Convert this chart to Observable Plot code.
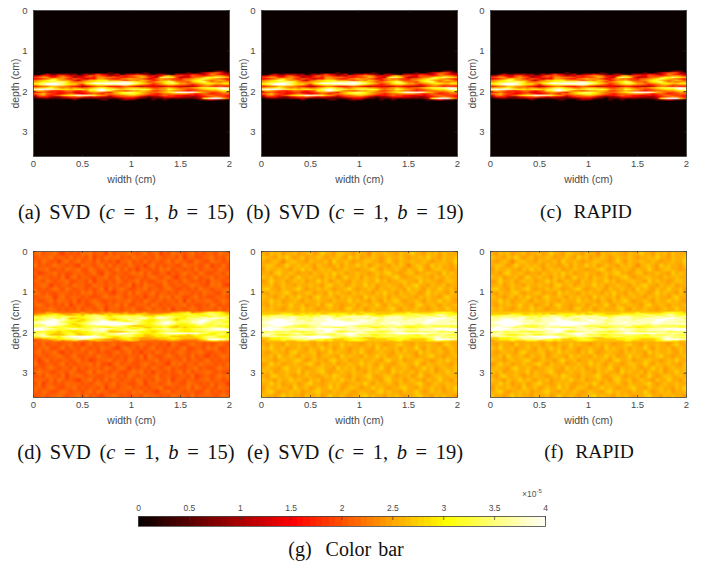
<!DOCTYPE html>
<html><head><meta charset="utf-8">
<script src="https://cdn.jsdelivr.net/npm/d3@7"></script>
<script src="https://cdn.jsdelivr.net/npm/@observablehq/plot@0.6"></script>
<style>
html,body{margin:0;padding:0;background:#fff}
#page{position:relative;width:709px;height:563px;overflow:hidden;background:#fff}
#page>div.p{position:absolute}
.cap{position:absolute;font-family:"Liberation Serif",serif;color:#111;white-space:nowrap;transform:translate(-50%,-50%)}
.cap i{font-style:italic}
#exp{position:absolute;left:522px;top:489px;font:8.5px "Liberation Sans",sans-serif;color:#555;white-space:nowrap}
#exp sup{font-size:6px;line-height:0}
svg{overflow:visible}
</style></head><body><div id="page"></div>
<script>
// ---------- values (each hex digit = 0..15 of the 0..4 x 10^-5 range) ----------
const widthTicks = [0, 0.5, 1, 1.5, 2];
const depthTicks = [0, 1, 2, 3];
const colorTicks = [0, 0.5, 1, 1.5, 2, 2.5, 3, 3.5, 4];
const colorLevels = [0,.0625,.125,.1875,.25,.3125,.375,.4375,.5,.5625,.625,.6875,.75,.8125,.875,.9375,
 1,1.0625,1.125,1.1875,1.25,1.3125,1.375,1.4375,1.5,1.5625,1.625,1.6875,1.75,1.8125,1.875,1.9375,
 2,2.0625,2.125,2.1875,2.25,2.3125,2.375,2.4375,2.5,2.5625,2.625,2.6875,2.75,2.8125,2.875,2.9375,
 3,3.0625,3.125,3.1875,3.25,3.3125,3.375,3.4375,3.5,3.5625,3.625,3.6875,3.75,3.8125,3.875,3.9375];
const colorDomain = [0, 1.5, 3, 4];
const colorRange = ["#0b0000", "#ff0000", "#ffff00", "#ffffff"];

const topBackground = ["00","00"];
const topBand = [
"0000000000 0000000000 0000000000 0000000000 0000002320",
"0000000000 0000000002 0000000020 0000000002 0024678742",
"0025224342 3024257542 3503446433 0342104444 6644697654",
"4576557865 5446878764 5476789985 6559a87765 8776789986",
"7899668987 3557769988 8766778a97 54bdcb7445 788acbdcba",
"5678ab9976 8764669987 6689a99875 6898877688 9abdba9876",
"89abdca998 6478aabbb9 9987898a98 6799a87789 abca989a97",
"9abbccddb9 889aabccdd ddeedcba97 89abdc9887 abcda89899",
"bcdeffedba a99bdfffff fffffedba9 789bcdb998 89abbbaabb",
"abdfffedba a869abccdd ddeedba987 6789aa9887 6789a98899",
"6788aa9987 6544678876 6678765455 5545665544 4578876766",
"9aabca9898 98789abcba 9889aaa998 7789a98788 9abccddefd",
"efffedcbba bcbabdefdc dbabcdcccb 9899cba987 789abbbdfe",
"9a98766788 7678cbefdc 9887899aa9 7789a98876 7788899abb",
"6787676677 5567899876 9abcdcba98 889abcffff fda9877898",
"89a8765678 7656787688 9abcccba98 7678899998 7678767788",
"5897678abc dfeedca986 7889aa9876 6678776655 6567887776",
"3666433567 7876565543 5677776432 3346665544 3356789876",
"1233222334 5322223222 2335553220 2223323222 234bdfffa8",
"0000000000 2000000220 0023220000 2002000000 0022453220"];

const leftBackground = [
"8978897687 8798978869 7888987897 8968798878 9787887988",
"7888978879 7887968798 8978798878 7987887968 8778897879",
"8798786897 8978879787 8688978797 8878979887 7987798878",
"9787898878 7698878979 7887987868 9787887798 8878968797",
"7889778798 8977987887 8979786887 8798978878 7978887987",
"8678897877 8887897698 7887898979 7788687898 8798778879",
"7988787968 9788778897 8978778878 9878976887 8978897887",
"8879878897 7887968878 7987889787 7889788798 7878698878",
"7898687887 9887798878 8878968798 8779878878 9887798976",
"8787898798 7887878969 7898778897 8878987787 8798878889",
"9878778887 8798978887 6887979878 9788787988 7879887798",
"7889868978 8878777898 8987887868 8798979877 8978778887",
"8778979887 9687898778 7888978798 7887887969 7888987898",
"8987878796 8887789878 8979778887 9878788897 8778798787",
"7888987878 7978878968 8878897789 7887968878 9878887978",
"8878898878 8878988878 8878898878 8988878898 8878888988",
"8888888888 8888888888 8888888888 8888888888 8888888888",
"8888888888 8888888888 8888888888 8888888888 8888888888",
"8888888888 8888888888 8888888888 8888888888 8888888888",
"8888888888 8888888888 8888888888 8888888888 8888888888",
"8888888888 8888888888 8888888888 8888888888 8888888888",
"8888888888 8888888888 8888888888 8888888888 8888888888",
"8888888888 8888888888 8888888888 8888888888 8888888888",
"8797887889 7868978878 9787788987 8878698778 9887878987",
"7889778978 8798787988 7689887878 9787887897 7887989778",
"8978897687 8887987877 8978978688 7987878987 8898778878",
"7887889878 9778879887 8787887969 8778987887 9787687898",
"8689787887 8978678889 7887987878 8978788797 8878978787",
"9778878978 7888979776 8978877898 7887698978 8798887879",
"7878987887 9787888798 7898687887 9878978778 8978778988",
"8988778879 8778979887 8877898978 6887878979 7888987877",
"7879887968 8987887788 9787987887 8978877887 9678878989",
"8887979878 7688978797 8878879878 7987968878 8788978878",
"7968878798 8878789878 9788778968 8878988779 8878797886",
"8878987788 9787887968 8788978787 8897787889 7987887988",
"8798778987 8878979887 7888798978 7688978878 8778978787",
"7887889878 8979787688 9878788798 8878798887 9788887898"];

const leftBand = [
"8889988888 8898888989 8889888898 8888899aab 899abcbba9",
"899aaba999 aa9a9a99aa aa9a99aaa9 999aabbbcc bbbcddccba",
"aabbccbbaa abaccddbba bbbcbbcbaa abbbcbbbbc ccbbcddcbb",
"ccdcdccddc cbbccdddcb cdddddddcc bdedddccbc ccddccdcdc",
"dcddedceca abbcddedcb bccddcdeec ceeedcbbbd dddeeefeeb",
"bcdeefeedb cbabcddedb abccedddcb bcdddcaccc deefeedccd",
"deefffedcc babcdeeffe edcbcdecbb bcdeedccdd eeffedcdcb",
"eeffffedcb bccdeeffff ffffeedccb cdeffecccc eefedcddcc",
"ddefffeedb abcdefffff fffffedcbb cdeeedcbbc cdedccdddc",
"ccdeeedcbb babcccddde eedcbaaabb bccdcbabbb bcdccccbcb",
"deedcbcccb bbbccdccbb ccdcbcbbaa bbbcbaabab bbbccdddcb",
"fffeedccde eddcdeeffe dccdcbcdcb cddedcccbb cdddeefffe",
"ffedccbcbb cbcddeeedb bcddeeddcb bbcdddcbbb ccdddeeeff",
"bbcbbbabbb abbbcddeda aaabcdcbbb abccdcccbb bcbcdcccbb",
"cddcbaabcc babbccdccd deffeedcbb bcdeefffff ffedcbbcdb",
"ddebaaaabc baabbdcbcd dedddcbbaa bbbcdccbba bcbbbbcdcb",
"cdeedcbdee ffffffedcb bbcddcbbaa abbcbaaaaa abbcddcbbb",
"aabbbcbcde eefffeedcb aabbbaa999 aaaabbbaaa aabcdddccb",
"8899aabbcc deedcbaa99 9aabbaa999 99aaabaa99 99abefffed",
"7888899899 a98899a999 8899aa9888 8888999888 8899abbaa9"];

const rightBackground = [
"a9bab9aab9 aab9acaa9b baa9baa8ba abaa9baaca a9bab9baaa",
"baa9baca9a b9aaba9aab a9cab9aaba 9abaaba9aa bacaa9baab",
"a9aba8abba a9baaab9ca aba9aabbaa 9aca9baaba aba9aabaac",
"abba9acaab aba9baa9ab 9baacab9ab aa9baba8ab ba9cabaa9b",
"9baabaa9ba cab9abab9a abaa9aabca 9baaba9baa ca9abbaa9a",
"aa9bcaaba9 aa9baabaca b9aabaa9ab abcaa9abb9 aabaa9caba",
"bab9aab9ac aabaa9bab9 acaab9baab 9aabca9aab baa9baabaa",
"9acaab9aba b9aacab9ab aa9baabaac ab9aabbaa9 cabaa9abba",
"aab9abaa9b aabaa9bcaa b9abaacab9 aabaa9babc aa9baab9aa",
"bcaa9baabc a9aababa9a abca9aaba9 baabaa9cab a9baacaab9",
"a9baabca9a abb9aa9cab aa9babaa9b acaa9baaba 9acabaa9ba",
"baa9ab9bac aa9bcaaba9 babaa9caba ab9baabaa9 babaa9bcaa",
"aacab9aaba 9baabaa9ba aacabaa9ba 9babca9aab a9baacaba9",
"a9babaacaa b9aab9bcaa 9aab9abaac a9baabaa9b caaba9baab",
"babaa9abaa caba9aabaa 9bcaab9aba aabca9baab aa9abaacaa",
"aabaaabaaa baaaabaaab aaaabaaaba aaabaaaabb aaabaaaaba",
"aaaaaaaaaa aaaaaaaaaa aaaaaaaaaa aaaaaaaaaa aaaaaaaaaa",
"aaaaaaaaaa aaaaaaaaaa aaaaaaaaaa aaaaaaaaaa aaaaaaaaaa",
"aaaaaaaaaa aaaaaaaaaa aaaaaaaaaa aaaaaaaaaa aaaaaaaaaa",
"aaaaaaaaaa aaaaaaaaaa aaaaaaaaaa aaaaaaaaaa aaaaaaaaaa",
"aaaaaaaaaa aaaaaaaaaa aaaaaaaaaa aaaaaaaaaa aaaaaaaaaa",
"aaaaaaaaaa aaaaaaaaaa aaaaaaaaaa aaaaaaaaaa aaaaaaaaaa",
"aaaaaaaaaa aaaaaaaaaa aaaaaaaaaa aaaaaaaaaa aaaaaaaaaa",
"a9baa9caab aba9ba9baa cabaa9abab a9aabcaa9b aabaa9bcaa",
"bacaab9aab a9baacab9a ba9aabaa9c abaab9baac a9baab9aba",
"a9abaa9bca aabb9aacab aa9baca9aa baa9babaa9 cabaaba9ba",
"aab9caaba9 baab9abaa9 cabaa9baac ab9aacaba9 aabcaa9aab",
"baa9abaabc a9abaa9bca ab9aabaaba 9bcaab9aab baa9abacaa",
"9acab9aaba abca9baab9 aabaacaba9 baa9abbaac a9baabaa9b",
"abaa9bcaab a9aabbaa9c abab9aabaa ca9baaba9a acab9abaab",
"bab9aabaac 9baabca9aa baabaa9bab aa9cabaab9 baab9aacab",
"a9bcaaba9a abaa9abacb aa9baabca9 abba9aab9a ca9abbaaba",
"baa9baacab a9bab9aaba caab9aabaa 9bcaab9aba a9baacaa9b",
"aacab9aab9 abcaa9abab a9aabaca9b aaba9baaab ca9abaabaa",
"9baabaa9ca ab9abaacab 9abba9aaca ba9aabcaa9 baabaa9bac",
"abca9aabab 9aabcaa9ba aba9abaa9b cabaa9baac a9abab9aab",
"baa9acabaa 9baab9acaa ba9aabcaba a9baba9aab caa9babaa9"];

const rightBand = [
"aaaaaaaaaa aaaaaaaaaa aaaaabaaaa aaaaaaabaa aaaabbcbba",
"aaaaabbbaa bababaabbb bbabaabbba aaabbbbccc bbbccdccbb",
"bbccddccbb bcbccddccb cccdccdcbb bcccdccccd ddccdeeccc",
"dddedddeed ddcddeeedc deeeeeeedd cdeeeedddc ddeeddedde",
"edeeeeeeed cddeeeefde eddeededfe deeeeeddde eeeefffeec",
"deefffefed eddeeeffee dddeefeeed deeeeedeee eefffeeeee",
"eefffffeee eddeeeefff feeeeffeed deeeeeeeee eeffeeeedd",
"efffffffee eeeeefffff fffffeeeed eeeffeeeee effeeeeeee",
"eeffffffee ddeeefffff fffffeeedd eeeeeeeeed deeeeeeeee",
"deefffedcc ccddeeeeff feedccccdd cdddeecccc cddccccccc",
"effeedcddc ccddedddcc cdeedddcbb ccddcccbbc ccddddddcc",
"fffffeeeef feeeffffff eeeeedeeed eeefeeeddd eeeeffffff",
"fffeeeeddd eeeeeeffed ddeeeeeeed dddeeedddd eeeeeeefff",
"ccdcccdccc bccdeeffec bcddeedccc bcddeedccc dcdddccccc",
"deedddddee ddddeeedde efffeeeddd ddeeffffff ffeeedeede",
"eedcbbbccd cbbcddcccd defedcccbb ccccdddccb cdcccddccc",
"deeedddeee fffffffedd ddeeedddcc cdddcccccc cdddeedddd",
"aabbbccdee eefffffedc bbccbbaaab bbbbcccbbb bbcdeeddcc",
"aabbbcccdd deedccbbaa abbccbbaaa aabbbcbbaa aabcfffffe",
"9aaaabaaab bbaabbabaa aabbbbaaaa aaaabbaaaa aabbccbbaa"];

// ---------- panels ----------
// Background digits are 4-px averages of the fine grain: "mid" is the digit read as "level", each step "grain".
const panels = [
  {x:33,  y:10,  bg:topBackground,  band:topBand,  mid:0,  level:0,    grain:0},
  {x:261, y:10,  bg:topBackground,  band:topBand,  mid:0,  level:0,    grain:0},
  {x:490, y:10,  bg:topBackground,  band:topBand,  mid:0,  level:0,    grain:0},
  {x:33,  y:251, bg:leftBackground, band:leftBand, mid:8,  level:2.08, grain:0.12},
  {x:261, y:251, bg:rightBackground,band:rightBand,mid:10, level:2.52, grain:0.12},
  {x:490, y:251, bg:rightBackground,band:rightBand,mid:10, level:2.52, grain:0.12}
];
const captions = [
  {x:126, y:212, size:20.5, gap:3.5, html:'(a)&nbsp;SVD (<i>c</i> = 1, <i>b</i> = 15)'},
  {x:355, y:212, size:20.5, gap:3.5, html:'(b)&nbsp;SVD (<i>c</i> = 1, <i>b</i> = 19)'},
  {x:586, y:212, size:19.5, gap:1,   html:'(c)&nbsp; RAPID'},
  {x:126, y:452, size:20.5, gap:3.5, html:'(d)&nbsp;SVD (<i>c</i> = 1, <i>b</i> = 15)'},
  {x:355, y:452, size:20.5, gap:3.5, html:'(e)&nbsp;SVD (<i>c</i> = 1, <i>b</i> = 19)'},
  {x:589, y:452, size:19.5, gap:1,   html:'(f)&nbsp; RAPID'},
  {x:346, y:549, size:20,   gap:2,   html:'(g)&nbsp; Color bar'}
];

const digits = rows => rows.join("").replace(/ /g,"").split("").map(c => parseInt(c,16));
const decode = rows => digits(rows).map(v => v*4/15);
const colorScale = {type:"linear", domain:colorDomain, range:colorRange, clamp:true};
const page = document.getElementById("page");
const ink = "#4a4a4a";
const depthMax = 3.6, width = 196, height = 146;
const m = {left:33, right:12, top:8, bottom:36};

for (const p of panels) {
  const bgRows = p.bg.length;
  const bgCols = p.bg[0].replace(/ /g,"").length;
  const bgValues = digits(p.bg).map(v => p.level + (v - p.mid)*p.grain);
  const plot = Plot.plot({
    width: width + m.left + m.right,
    height: height + m.top + m.bottom,
    marginLeft:m.left, marginRight:m.right, marginTop:m.top, marginBottom:m.bottom,
    style:{background:"transparent", fontFamily:'"Liberation Sans",sans-serif', overflow:"visible"},
    x:{domain:[0,2]},
    y:{domain:[0,depthMax], reverse:true},
    color:colorScale,
    marks:[
      Plot.raster(bgValues, {width:bgCols, height:bgRows, x1:0, x2:2, y1:0, y2:depthMax, fill:d=>d}),
      Plot.raster(decode(p.band), {width:50, height:p.band.length, x1:0, x2:2, y1:1.48, y2:2.22, fill:d=>d}),
      Plot.ruleX(widthTicks, {y1:depthMax, y2:depthMax-0.05, stroke:"#222", strokeWidth:0.6}),
      Plot.ruleX(widthTicks, {y1:0, y2:0.05, stroke:"#222", strokeWidth:0.6}),
      Plot.ruleY(depthTicks, {x1:0, x2:0.025, stroke:"#222", strokeWidth:0.8}),
      Plot.ruleY(depthTicks, {x1:2, x2:1.975, stroke:"#222", strokeWidth:0.8}),
      Plot.frame({stroke:"#444", strokeWidth:0.8}),
      Plot.axisX(widthTicks, {anchor:"bottom", tickSize:0, tickPadding:4, fontSize:9.5, color:ink, tickFormat:String, label:null}),
      Plot.axisX({anchor:"bottom", ticks:[], label:"width (cm)", labelAnchor:"center", labelArrow:"none", labelOffset:26, fontSize:10.5, color:ink}),
      Plot.axisY(depthTicks, {anchor:"left", tickSize:0, tickPadding:6, fontSize:9.5, color:ink, tickFormat:String, label:null}),
      Plot.axisY({anchor:"left", ticks:[], label:"depth (cm)", labelAnchor:"center", labelArrow:"none", labelOffset:22, fontSize:10.5, color:ink})
    ]
  });
  const d = document.createElement("div");
  d.className = "p";
  d.style.left = (p.x - m.left) + "px";
  d.style.top = (p.y - m.top) + "px";
  d.appendChild(plot);
  page.appendChild(d);
}

// colour bar
const barStep = colorLevels[1] - colorLevels[0];
const bar = Plot.plot({
  width: 709, height: 60,
  marginLeft:138, marginRight:164, marginTop:26, marginBottom:24,
  style:{background:"transparent", fontFamily:'"Liberation Sans",sans-serif', overflow:"visible"},
  x:{domain:[0,4]},
  y:{domain:[0,1], axis:null},
  color:colorScale,
  marks:[
    Plot.rect(colorLevels, {x1:d=>d, x2:d=>d+barStep, y1:0, y2:1, fill:d=>d, shapeRendering:"crispEdges"}),
    Plot.ruleX(colorTicks, {y1:1, y2:0.6, stroke:"#333", strokeWidth:0.7}),
    Plot.frame({stroke:"#444", strokeWidth:0.8}),
    Plot.axisX(colorTicks, {anchor:"top", tickSize:0, tickPadding:6, fontSize:8.5, color:ink, tickFormat:String, label:null})
  ]
});
const bd = document.createElement("div");
bd.className = "p";
bd.style.left = "0px"; bd.style.top = "490px";
bd.appendChild(bar);
page.appendChild(bd);

const ex = document.createElement("div");
ex.id = "exp"; ex.innerHTML = "×10<sup>-5</sup>";
page.appendChild(ex);

for (const c of captions) {
  const e = document.createElement("div");
  e.className = "cap";
  e.style.left = c.x + "px"; e.style.top = c.y + "px";
  e.style.fontSize = c.size + "px"; e.style.wordSpacing = c.gap + "px";
  e.innerHTML = c.html;
  page.appendChild(e);
}
</script></body></html>
